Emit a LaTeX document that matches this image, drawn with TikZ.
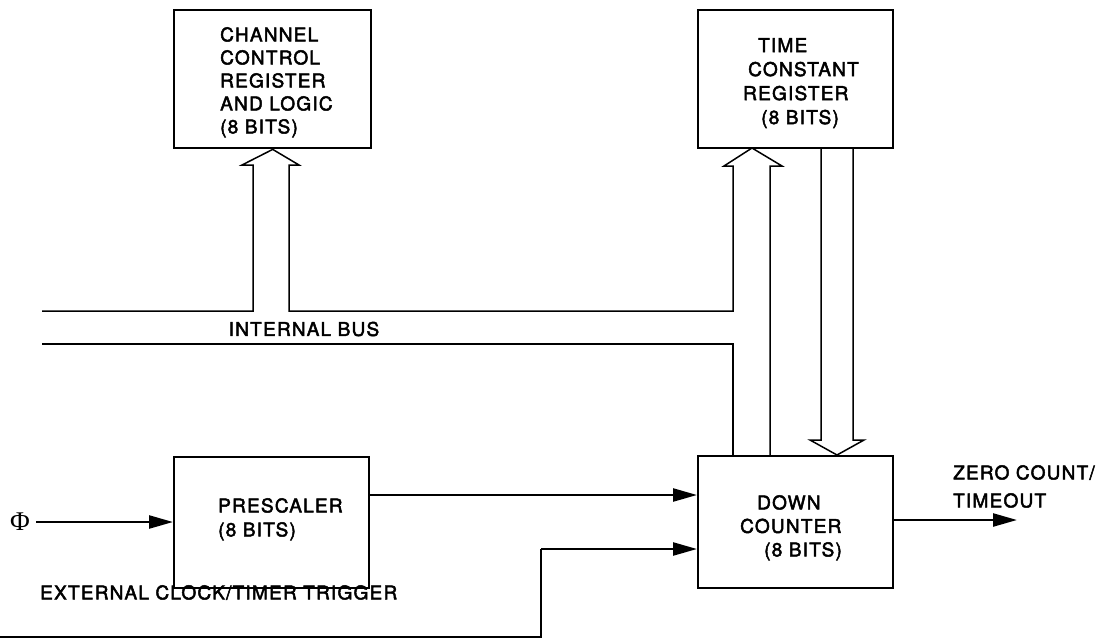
\documentclass[tikz,border=0pt]{standalone}
\usepackage{fontspec}
\setmainfont{TeX Gyre Heros}[LetterSpace=6.5, FakeBold=2.5]
\newfontfamily\phifont{Liberation Serif}
\usetikzlibrary{arrows.meta}
\begin{document}
\begin{tikzpicture}[x=1pt,y=-1pt,
  box/.style={draw, line width=2.4pt, anchor=north west, inner sep=0pt},
  lbl/.style={anchor=north west, inner sep=0pt, align=left},
  sig/.style={line width=2.4pt, -{Triangle[length=24pt,width=13pt]}},
  wire/.style={line width=2.4pt},
  bus/.style={line width=1.5pt, line join=miter},
  txt/.style={font=\fontsize{19}{24}\selectfont}]
\useasboundingbox (0,0) rectangle (1114,643);

% functional blocks
\node[box, minimum width=197pt, minimum height=138pt] (ccr) at (173,9) {};
\node[box, minimum width=195pt, minimum height=138pt] (tcr) at (697,9) {};
\node[box, minimum width=195pt, minimum height=131pt] (pre) at (173,456) {};
\node[box, minimum width=195pt, minimum height=132pt] (dc)  at (697,455) {};

% block labels
\node[lbl, font=\fontsize{19}{23}\selectfont] (ccrt) at (220,27)
  {CHANNEL\\CONTROL\\REGISTER\\AND LOGIC\\(8 BITS)};
\node[lbl, txt] (tcrt) at (743,38)
  {\hspace*{15pt}TIME\\\hspace*{5pt}CONSTANT\\REGISTER\\\hspace*{18pt}(8 BITS)};
\node[lbl, txt] (pret) at (218,498) {PRESCALER\\(8 BITS)};
\node[lbl, font=\fontsize{19}{23.5}\selectfont] (dct) at (740,495)
  {\hspace*{17pt}DOWN\\COUNTER\\\hspace*{24pt}(8 BITS)};

% internal bus with its two hollow branches up to the registers
\coordinate (busa) at (733,311);
\coordinate (busb) at (770,166);
\coordinate (busc) at (733,344);
\draw[bus] (42,311) -- (253,311) -- (253,165) -- (242,165) -- (ccr.south)
  -- (299,165) -- (289,165) -- (289,311) -- (busa) -- (733,166)
  -- (724,166) -- (752,148) -- (782,166) -- (busb) -- (busb |- dc.north);
\draw[bus] (42,344) -- (busc) -- (busc |- dc.north);
\node[txt, inner sep=0pt] (busl) at (304,329) {INTERNAL BUS};

% hollow transfer from time constant register to down counter
\draw[bus] (821,148) -- (821,440) -- (810,440) -- (837,455) -- (864,440)
  -- (853,440) -- (853,148);

% clock inputs
\node[inner sep=0pt, font=\phifont\fontsize{27}{27}\selectfont] (phi) at (20,522) {Φ};
\coordinate (phis) at (36,522);
\draw[sig] (phis) -- (phis -| pre.west);

\coordinate (py) at (0,495);
\draw[sig] (py -| pre.east) -- (py -| dc.west);

\coordinate (ext0) at (0,637);
\coordinate (extc) at (541,637);
\coordinate (exty) at (0,549);
\draw[wire] (ext0) -- (extc) -- (extc |- exty);
\draw[sig] (extc |- exty) -- (exty -| dc.west);
\node[lbl, txt] (extl) at (40,585) {EXTERNAL CLOCK/TIMER TRIGGER};

% output
\coordinate (zy) at (0,520);
\coordinate (zend) at (1017,520);
\draw[sig] (zy -| dc.east) -- (zend);
\node[lbl, font=\fontsize{19}{28}\selectfont] (zl) at (953,465) {ZERO COUNT/\\TIMEOUT};
\end{tikzpicture}
\end{document}
